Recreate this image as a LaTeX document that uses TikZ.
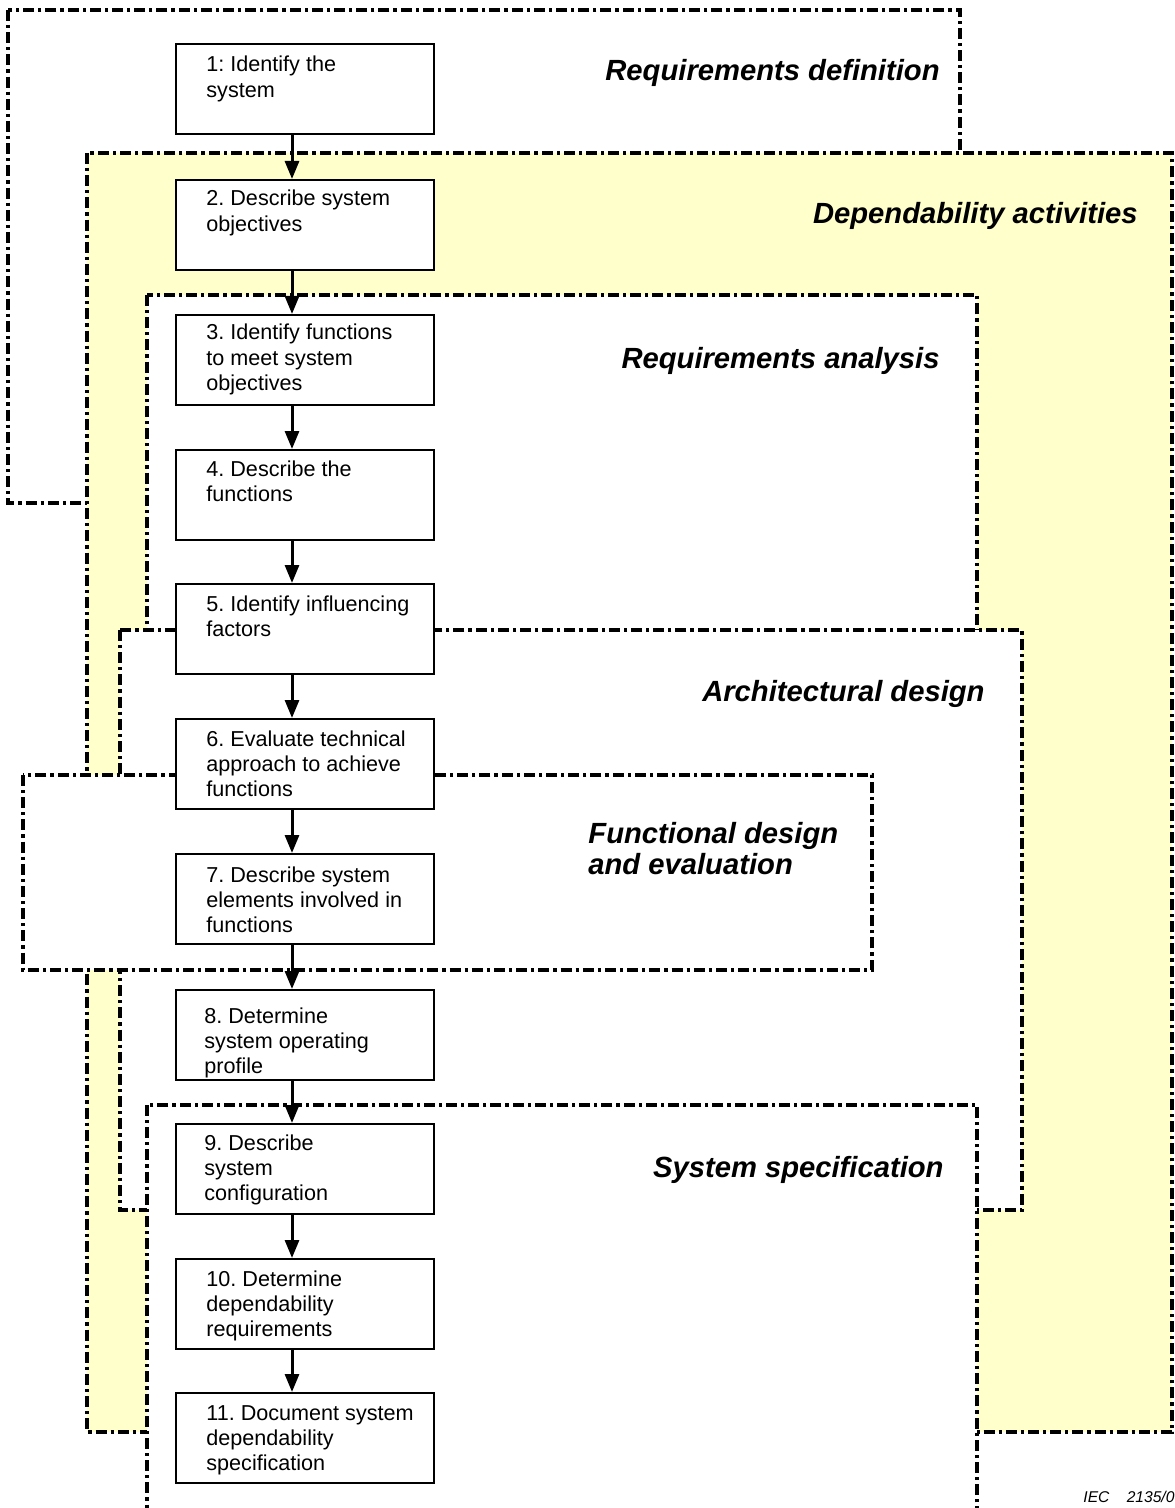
\documentclass[tikz,border=0pt]{standalone}
\usepackage{fontspec}
\setmainfont{Liberation Sans}
\usetikzlibrary{arrows.meta,calc}
\definecolor{paleyellow}{HTML}{FFFFCC}
\begin{document}
\frenchspacing
\begin{tikzpicture}[x=0.5pt,y=-0.5pt,
  frame/.style={draw=black, line width=1.6pt, line cap=butt,
    dash pattern=on 5.5pt off 2pt on 1.6pt off 2pt, fill=white},
  stepbox/.style={draw=black, line width=0.9pt, fill=white, minimum width=129pt,
    minimum height=45pt, inner sep=0pt, anchor=north west},
  steptext/.style={anchor=base west, inner sep=0pt, font=\fontsize{10.8}{12.6}\selectfont},
  flow/.style={line width=1.5pt, -{Triangle[length=9pt,width=7pt]}},
  phase/.style={font=\fontsize{14.6}{15.5}\selectfont\bfseries\itshape, inner sep=0pt, anchor=base east},
]
\useasboundingbox (0,0) rectangle (1174,1508);
\clip (0,0) rectangle (1174,1508);

% frames (phases)
\draw[frame] (8,10) rectangle (960,503);
\draw[frame, fill=paleyellow] (87,153) rectangle (1172,1432);
\draw[frame] (147,295) rectangle (977,700);
\draw[frame] (120,630) rectangle (1022,1210);
\draw[frame] (147,1105) rectangle (977,1540);
\draw[frame] (23,775) rectangle (872,970);

\coordinate (axis) at (292,0);

% steps
\node[stepbox] (b1) at (175,43) {};
\node[stepbox] (b2) at (175,179) {};
\node[stepbox] (b3) at (175,314) {};
\node[stepbox] (b4) at (175,449) {};
\node[stepbox] (b5) at (175,583) {};
\node[stepbox] (b6) at (175,718) {};
\node[stepbox] (b7) at (175,853) {};
\node[stepbox] (b8) at (175,989) {};
\node[stepbox] (b9) at (175,1123) {};
\node[stepbox] (b10) at (175,1258) {};
\node[stepbox] (b11) at (175,1392) {};

\node[steptext] (t1) at ($(b1.north west)+(31,29)$) {\parbox[t]{125pt}{1: Identify the\\system}};
\node[steptext] (t2) at ($(b2.north west)+(31,27)$) {\parbox[t]{125pt}{2. Describe system\\objectives}};
\node[steptext] (t3) at ($(b3.north west)+(31,26)$) {\parbox[t]{125pt}{3. Identify functions\\to meet system\\objectives}};
\node[steptext] (t4) at ($(b4.north west)+(31,27)$) {\parbox[t]{125pt}{4. Describe the\\functions}};
\node[steptext] (t5) at ($(b5.north west)+(31,28)$) {\parbox[t]{125pt}{5. Identify influencing\\factors}};
\node[steptext] (t6) at ($(b6.north west)+(31,28)$) {\parbox[t]{125pt}{6. Evaluate technical\\approach to achieve\\functions}};
\node[steptext] (t7) at ($(b7.north west)+(31,29)$) {\parbox[t]{125pt}{7. Describe system\\elements involved in\\functions}};
\node[steptext] (t8) at ($(b8.north west)+(29,34)$) {\parbox[t]{125pt}{8. Determine\\system operating\\profile}};
\node[steptext] (t9) at ($(b9.north west)+(29,27)$) {\parbox[t]{125pt}{9. Describe\\system\\configuration}};
\node[steptext] (t10) at ($(b10.north west)+(31,28)$) {\parbox[t]{125pt}{10. Determine\\dependability\\requirements}};
\node[steptext] (t11) at ($(b11.north west)+(31,28)$) {\parbox[t]{125pt}{11. Document system\\dependability\\specification}};

% connectors
\draw[flow] (b1.south -| axis) -- (b2.north -| axis);
\draw[flow] (b2.south -| axis) -- (b3.north -| axis);
\draw[flow] (b3.south -| axis) -- (b4.north -| axis);
\draw[flow] (b4.south -| axis) -- (b5.north -| axis);
\draw[flow] (b5.south -| axis) -- (b6.north -| axis);
\draw[flow] (b6.south -| axis) -- (b7.north -| axis);
\draw[flow] (b7.south -| axis) -- (b8.north -| axis);
\draw[flow] (b8.south -| axis) -- (b9.north -| axis);
\draw[flow] (b9.south -| axis) -- (b10.north -| axis);
\draw[flow] (b10.south -| axis) -- (b11.north -| axis);

% phase labels
\node[phase] (lrd) at (940,81) {Requirements definition};
\node[phase] (lda) at (1138,224) {Dependability activities};
\node[phase] (lra) at (940,368) {Requirements analysis};
\node[phase] (lad) at (985,701) {Architectural design};
\node[phase, anchor=base west] (lfd) at (588,843) {\parbox[t]{160pt}{Functional design\\and evaluation}};
\node[phase] (lss) at (944,1177) {System specification};
\node[anchor=base west, inner sep=0pt, font=\fontsize{7.8}{8}\selectfont\itshape] (iec) at (1083,1502) {IEC\ \ \ \ 2135/06};
\end{tikzpicture}
\end{document}
